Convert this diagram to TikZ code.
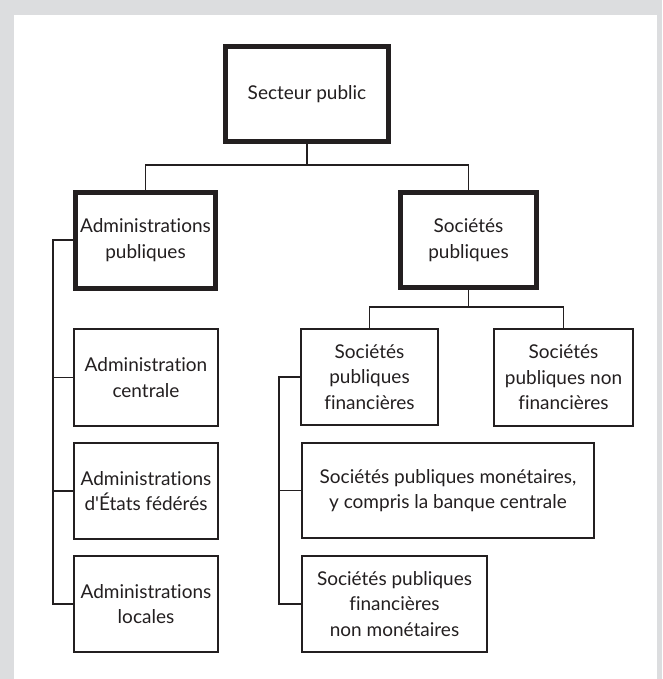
\documentclass[tikz,border=0pt]{standalone}
\usepackage{fontspec}
\setmainfont{Lato}[Ligatures={TeXOff,NoCommon}]
\usepackage{xcolor}
\definecolor{bggray}{RGB}{220,221,223}
\definecolor{ink}{RGB}{35,31,32}

\begin{document}
\begin{tikzpicture}[x=1pt,y=-1pt,
  txt/.style={align=center,text=ink,inner sep=0pt,font=\fontsize{19}{25.5}\selectfont},
  mainbox/.style={txt,draw=ink,line width=5pt},
  subbox/.style={txt,draw=ink,line width=1.2pt},
  link/.style={draw=ink,line width=1.1pt}]
\useasboundingbox (0,0) rectangle (662,679);
\fill[bggray] (0,0) rectangle (662,679);
\fill[white] (14,15) rectangle (657,679);

\node[mainbox, minimum width=163pt, minimum height=95pt] (secteur) at (307,94) {Secteur public};
\node[mainbox, minimum width=140pt, minimum height=96pt] (adminpub) at (145.5,240) {Administrations\\publiques};
\node[mainbox, minimum width=136pt, minimum height=95pt] (socpub) at (468.5,240) {Sociétés\\publiques};

\node[subbox, minimum width=144pt, minimum height=97pt] (centrale) at (146,377.5) {Administration\\centrale};
\node[subbox, minimum width=144pt, minimum height=96pt] (etats) at (146,491) {Administrations\\d'États fédérés};
\node[subbox, minimum width=144pt, minimum height=96pt] (locales) at (146,604) {Administrations\\locales};

\node[subbox, minimum width=137pt, minimum height=96pt] (socfin) at (369.5,377) {Sociétés\\publiques\\financières};
\node[subbox, minimum width=139pt, minimum height=97pt] (socnonfin) at (563.5,377.5) {Sociétés\\publiques non\\financières};
\node[subbox, minimum width=292pt, minimum height=95pt] (socmon) at (448,490.5) {Sociétés publiques monétaires,\\y compris la banque centrale};
\node[subbox, minimum width=185pt, minimum height=96pt] (socnonmon) at (394.5,604) {Sociétés publiques\\financières\\non monétaires};

\coordinate (topbar) at (0,165);
\coordinate (socbar) at (0,307);
\coordinate (leftspine) at (53,0);
\coordinate (rightspine) at (279,0);

% secteur public
\draw[link] (secteur.south) -- (secteur.south |- topbar);
\draw[link] (adminpub.north) |- (topbar -| socpub.north) -- (socpub.north);

% societes publiques
\draw[link] (socpub.south) -- (socpub.south |- socbar);
\draw[link] (socfin.north) |- (socbar -| socnonfin.north) -- (socnonfin.north);

% administrations
\draw[link] (adminpub.west) -- (adminpub.west -| leftspine) |- (locales.west);
\foreach \n in {centrale,etats}
  \draw[link] (\n.west) -- (\n.west -| leftspine);

% societes financieres
\draw[link] (socfin.west) -- (socfin.west -| rightspine) |- (socnonmon.west);
\draw[link] (socmon.west) -- (socmon.west -| rightspine);

\end{tikzpicture}
\end{document}
